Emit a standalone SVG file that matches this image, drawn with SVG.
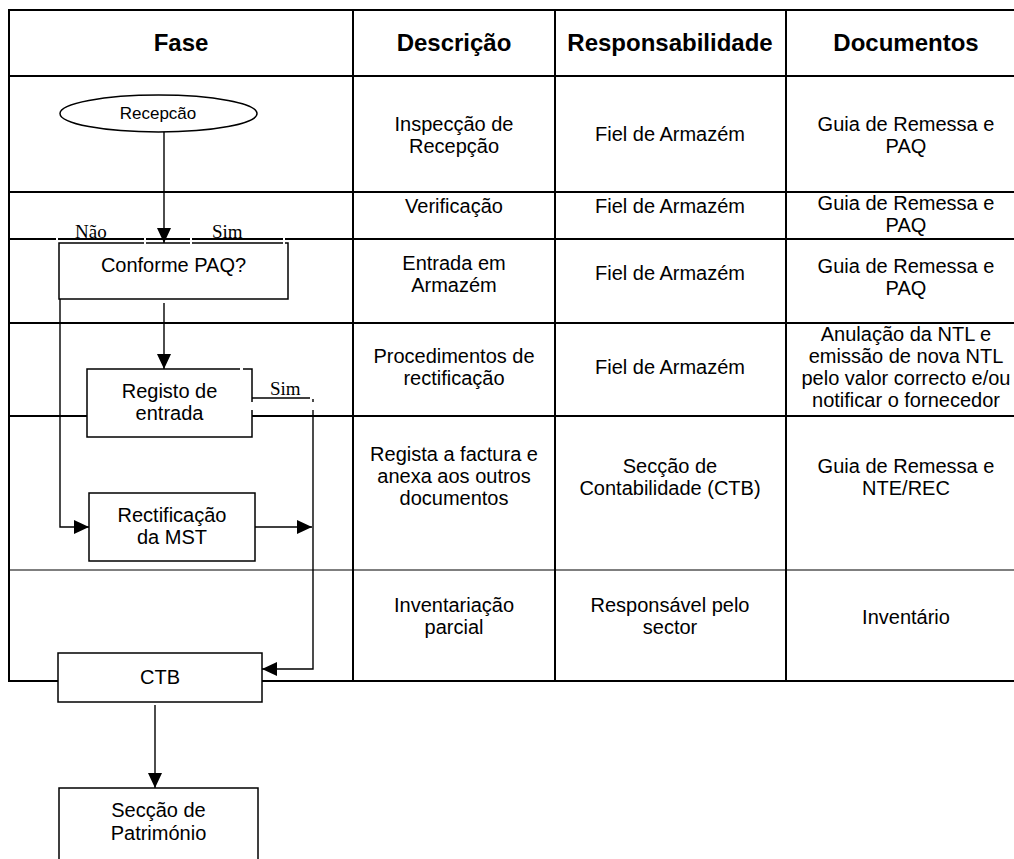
<svg xmlns="http://www.w3.org/2000/svg" width="1014" height="859" viewBox="0 0 1014 859">
  <defs>
    <marker id="arrow" markerUnits="userSpaceOnUse" markerWidth="15" markerHeight="14" refX="15" refY="7" orient="auto">
      <path d="M0,0 L15,7 L0,14 z" fill="#000"/>
    </marker>
    <style>
      .grid { stroke: #000; stroke-width: 2; fill: none; }
      .thin { stroke: #000; stroke-width: 1.2; fill: none; }
      .flow { stroke: #000; stroke-width: 1.4; fill: none; }
      .box { stroke: #000; stroke-width: 1.5; fill: #fff; }
      .gap { fill: #fff; }
      .hd { font-family: "Liberation Sans", Arial, sans-serif; font-size: 24px; font-weight: bold; text-anchor: middle; fill: #000; }
      .tx { font-family: "Liberation Sans", Arial, sans-serif; font-size: 20px; text-anchor: middle; fill: #000; }
      .lbl { font-family: "Liberation Serif", "Times New Roman", serif; font-size: 19px; fill: #000; }
    </style>
  </defs>
  <rect width="1014" height="859" fill="#fff"/>

  <!-- table grid -->
  <g id="table">
    <line class="grid" x1="9" y1="10" x2="1014" y2="10"/>
    <line class="grid" x1="9" y1="76" x2="1014" y2="76"/>
    <line class="grid" x1="9" y1="192" x2="1014" y2="192"/>
    <line class="grid" x1="9" y1="239" x2="1014" y2="239"/>
    <line class="grid" x1="9" y1="323" x2="1014" y2="323"/>
    <line class="grid" x1="9" y1="416" x2="1014" y2="416"/>
    <line class="thin" x1="9" y1="570" x2="1014" y2="570"/>
    <line class="grid" x1="9" y1="681" x2="1014" y2="681"/>
    <line class="grid" x1="9" y1="9" x2="9" y2="682"/>
    <line class="grid" x1="353" y1="10" x2="353" y2="681"/>
    <line class="grid" x1="555" y1="10" x2="555" y2="681"/>
    <line class="grid" x1="786" y1="10" x2="786" y2="681"/>
  </g>

  <!-- table headers and cells -->
  <g id="headers">
    <text class="hd" x="181" y="51">Fase</text>
    <text class="hd" x="454" y="51">Descrição</text>
    <text class="hd" x="670" y="51">Responsabilidade</text>
    <text class="hd" x="906" y="51">Documentos</text>
  </g>
  <g id="row-1">
    <text class="tx" x="454" y="131">Inspecção de</text>
    <text class="tx" x="454" y="153">Recepção</text>
    <text class="tx" x="670" y="141">Fiel de Armazém</text>
    <text class="tx" x="906" y="131">Guia de Remessa e</text>
    <text class="tx" x="906" y="153">PAQ</text>
  </g>
  <g id="row-2">
    <text class="tx" x="454" y="213">Verificação</text>
    <text class="tx" x="670" y="213">Fiel de Armazém</text>
    <text class="tx" x="906" y="210">Guia de Remessa e</text>
    <text class="tx" x="906" y="232">PAQ</text>
  </g>
  <g id="row-3">
    <text class="tx" x="454" y="270">Entrada em</text>
    <text class="tx" x="454" y="292">Armazém</text>
    <text class="tx" x="670" y="280">Fiel de Armazém</text>
    <text class="tx" x="906" y="273">Guia de Remessa e</text>
    <text class="tx" x="906" y="295">PAQ</text>
  </g>
  <g id="row-4">
    <text class="tx" x="454" y="363">Procedimentos de</text>
    <text class="tx" x="454" y="385">rectificação</text>
    <text class="tx" x="670" y="374">Fiel de Armazém</text>
    <text class="tx" x="906" y="341">Anulação da NTL e</text>
    <text class="tx" x="906" y="363">emissão de nova NTL</text>
    <text class="tx" x="906" y="385">pelo valor correcto e/ou</text>
    <text class="tx" x="906" y="407">notificar o fornecedor</text>
  </g>
  <g id="row-5">
    <text class="tx" x="454" y="461">Regista a factura e</text>
    <text class="tx" x="454" y="483">anexa aos outros</text>
    <text class="tx" x="454" y="505">documentos</text>
    <text class="tx" x="670" y="473">Secção de</text>
    <text class="tx" x="670" y="495">Contabilidade (CTB)</text>
    <text class="tx" x="906" y="473">Guia de Remessa e</text>
    <text class="tx" x="906" y="495">NTE/REC</text>
  </g>
  <g id="row-6">
    <text class="tx" x="454" y="612">Inventariação</text>
    <text class="tx" x="454" y="634">parcial</text>
    <text class="tx" x="670" y="612">Responsável pelo</text>
    <text class="tx" x="670" y="634">sector</text>
    <text class="tx" x="906" y="624">Inventário</text>
  </g>

  <!-- flow connectors -->
  <g id="connectors">
    <line class="flow" x1="164" y1="131" x2="164" y2="243" marker-end="url(#arrow)"/>
    <line class="flow" x1="164" y1="303" x2="164" y2="369" marker-end="url(#arrow)"/>
    <polyline class="flow" points="60,299 60,527 89,527" marker-end="url(#arrow)"/>
    <line class="flow" x1="255" y1="527" x2="312" y2="527" marker-end="url(#arrow)"/>
    <line class="flow" x1="252" y1="398" x2="310" y2="398"/>
    <polyline class="flow" points="313,399 313,669 262,669" marker-end="url(#arrow)"/>
    <line class="flow" x1="155" y1="705" x2="155" y2="788" marker-end="url(#arrow)"/>
    <text class="lbl" x="75" y="238">Não</text>
    <text class="lbl" x="212" y="238">Sim</text>
    <text class="lbl" x="270" y="395">Sim</text>
  </g>

  <!-- flow nodes -->
  <g id="recepcao">
    <ellipse class="box" cx="158.5" cy="113.5" rx="98.5" ry="18.5"/>
    <text class="tx" x="158" y="119" style="font-size:17px">Recepcão</text>
  </g>
  <g id="conforme">
    <rect class="box" x="59" y="243" width="229" height="56"/>
    <text class="tx" x="173.5" y="272">Conforme PAQ?</text>
  </g>
  <g id="registo">
    <rect class="box" x="87" y="369" width="165" height="68"/>
    <text class="tx" x="169.5" y="398">Registo de</text>
    <text class="tx" x="169.5" y="420">entrada</text>
  </g>
  <g id="rectificacao">
    <rect class="box" x="89" y="493" width="166" height="68"/>
    <text class="tx" x="172" y="522">Rectificação</text>
    <text class="tx" x="172" y="544">da MST</text>
  </g>
  <g id="ctb">
    <rect class="box" x="58" y="653" width="204" height="49"/>
    <text class="tx" x="160" y="684">CTB</text>
  </g>
  <g id="patrimonio">
    <rect class="box" x="59" y="788" width="199" height="90"/>
    <text class="tx" x="158.5" y="817">Secção de</text>
    <text class="tx" x="158.5" y="840">Património</text>
  </g>

  <!-- small breaks where label frames overlap the lines -->
  <g id="breaks">
    <rect class="gap" x="56" y="236" width="2" height="10"/>
    <rect class="gap" x="144" y="236" width="2" height="10"/>
    <rect class="gap" x="190" y="236" width="2" height="10"/>
    <rect class="gap" x="283" y="236" width="2" height="10"/>
    <rect class="gap" x="240" y="367" width="3" height="4"/>
    <rect class="gap" x="250" y="402" width="4" height="8"/>
    <rect class="gap" x="311" y="402" width="4" height="8"/>
  </g>
</svg>
